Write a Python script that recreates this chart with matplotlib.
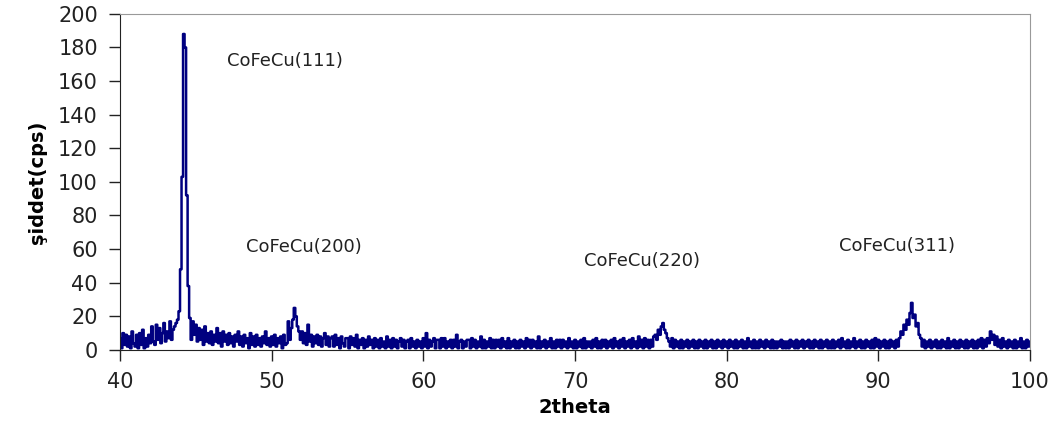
import numpy as np
import matplotlib.pyplot as plt

# 2theta from 40.0 to 100.0 in 0.1 steps, one row per degree
two_theta = np.round(np.arange(400, 1001) / 10.0, 1)
counts = [
    7, 1, 10, 3, 9, 2, 8, 1, 11, 4,       # 40
    2, 9, 1, 10, 3, 12, 1, 7, 2, 9,       # 41
    4, 14, 5, 3, 15, 6, 13, 4, 10, 16,    # 42
    5, 11, 7, 17, 6, 12, 14, 16, 18, 23,  # 43
    48, 103, 188, 180, 92, 38, 19, 6, 17, 9,  # 44
    15, 5, 13, 6, 12, 3, 14, 5, 10, 4,    # 45
    11, 3, 9, 5, 13, 4, 10, 2, 11, 5,     # 46
    9, 3, 10, 4, 8, 2, 9, 5, 11, 3,       # 47
    8, 2, 9, 4, 7, 1, 10, 3, 8, 2,        # 48
    9, 3, 7, 2, 8, 4, 11, 3, 7, 2,        # 49
    8, 3, 9, 2, 7, 4, 8, 1, 9, 3,         # 50
    4, 17, 6, 13, 18, 25, 20, 14, 11, 6,  # 51
    11, 4, 10, 3, 15, 5, 9, 2, 8, 4,      # 52
    9, 3, 8, 2, 7, 10, 3, 8, 2, 7,        # 53
    8, 2, 9, 3, 7, 1, 8, 4, 2, 7,         # 54
    7, 1, 8, 3, 7, 2, 9, 1, 6, 3,         # 55
    7, 1, 6, 2, 8, 3, 6, 1, 7, 2,         # 56
    6, 1, 7, 2, 5, 1, 8, 2, 6, 1,         # 57
    7, 2, 6, 1, 5, 7, 2, 6, 1, 5,         # 58
    6, 1, 7, 2, 5, 1, 6, 2, 5, 1,         # 59
    7, 2, 10, 1, 6, 2, 5, 7, 1, 6,        # 60
    6, 1, 7, 2, 7, 1, 5, 2, 6, 1,         # 61
    6, 2, 9, 1, 5, 6, 1, 5, 2, 6,         # 62
    6, 1, 7, 2, 6, 1, 5, 2, 8, 1,         # 63
    6, 1, 5, 2, 7, 1, 6, 1, 6, 2,         # 64
    6, 1, 7, 2, 5, 1, 7, 1, 5, 2,         # 65
    6, 1, 5, 1, 6, 2, 5, 1, 7, 2,         # 66
    6, 1, 6, 2, 5, 1, 8, 1, 5, 2,         # 67
    6, 1, 5, 2, 7, 1, 5, 1, 6, 2,         # 68
    6, 1, 6, 2, 5, 1, 7, 2, 5, 1,         # 69
    6, 1, 5, 2, 6, 1, 7, 1, 5, 2,         # 70
    5, 1, 6, 2, 7, 1, 5, 1, 6, 2,         # 71
    6, 1, 5, 2, 6, 1, 7, 2, 5, 1,         # 72
    6, 2, 7, 1, 5, 2, 6, 1, 7, 2,         # 73
    5, 1, 8, 2, 6, 1, 7, 2, 6, 1,         # 74
    6, 2, 8, 9, 6, 12, 9, 14, 16, 12,     # 75
    10, 7, 5, 2, 7, 1, 6, 2, 5, 1,        # 76
    6, 1, 5, 2, 6, 1, 5, 2, 6, 1,         # 77
    5, 1, 6, 2, 5, 1, 6, 1, 5, 2,         # 78
    6, 1, 5, 1, 6, 2, 5, 1, 6, 2,         # 79
    5, 1, 6, 2, 5, 1, 6, 1, 5, 2,         # 80
    6, 1, 5, 1, 7, 2, 5, 1, 6, 1,         # 81
    5, 1, 6, 2, 5, 1, 6, 2, 5, 1,         # 82
    6, 1, 5, 1, 5, 2, 6, 1, 5, 1,         # 83
    5, 1, 6, 2, 5, 1, 6, 1, 5, 2,         # 84
    6, 1, 5, 2, 6, 1, 5, 1, 6, 2,         # 85
    5, 1, 6, 1, 5, 2, 6, 1, 5, 1,         # 86
    6, 1, 5, 2, 6, 1, 7, 2, 5, 1,         # 87
    6, 1, 5, 2, 7, 1, 5, 2, 6, 1,         # 88
    5, 1, 6, 2, 5, 1, 6, 1, 7, 2,         # 89
    6, 1, 5, 2, 6, 1, 5, 1, 6, 2,         # 90
    5, 1, 6, 2, 7, 11, 9, 15, 12, 18,     # 91
    15, 22, 28, 19, 21, 14, 16, 9, 7, 2,  # 92
    6, 1, 5, 2, 6, 1, 5, 2, 6, 1,         # 93
    5, 1, 6, 2, 5, 1, 7, 1, 5, 2,         # 94
    6, 1, 5, 1, 6, 2, 5, 1, 6, 1,         # 95
    5, 2, 6, 1, 5, 1, 6, 2, 7, 1,         # 96
    6, 2, 7, 4, 11, 6, 9, 3, 8, 2,        # 97
    6, 1, 7, 2, 5, 1, 6, 2, 5, 1,         # 98
    6, 1, 5, 2, 7, 1, 5, 1, 6, 2,         # 99
    5,                                    # 100
]

peak_labels = ['CoFeCu(111)', 'CoFeCu(200)', 'CoFeCu(220)', 'CoFeCu(311)']
label_x = [50.9, 52.1, 74.4, 91.2]
label_y = [172, 61, 53, 62]

fig = plt.figure(figsize=(10.63, 4.32), dpi=100)
ax = fig.add_axes([0.113, 0.19, 0.856, 0.778])

ax.plot(two_theta, counts, color='#000080', lw=1.8, drawstyle='steps-mid')

for txt, x, y in zip(peak_labels, label_x, label_y):
    ax.text(x, y, txt, ha='center', va='center', fontsize=13, color='#222222')

ax.set_xlim(40, 100)
ax.set_ylim(0, 200)
ax.set_xticks(range(40, 101, 10))
ax.set_yticks(range(0, 201, 20))
ax.tick_params(direction='out', length=8, width=1, labelsize=15,
               colors='#222222', pad=8)

for s in ['top', 'right']:
    ax.spines[s].set_color('#999999')
for s in ['left', 'bottom']:
    ax.spines[s].set_color('#222222')

ax.set_xlabel('2theta', fontsize=14, fontweight='bold', labelpad=4)
ax.set_ylabel('şiddet(cps)', fontsize=14, fontweight='bold', labelpad=8)

fig.savefig('out.png', dpi=100)
